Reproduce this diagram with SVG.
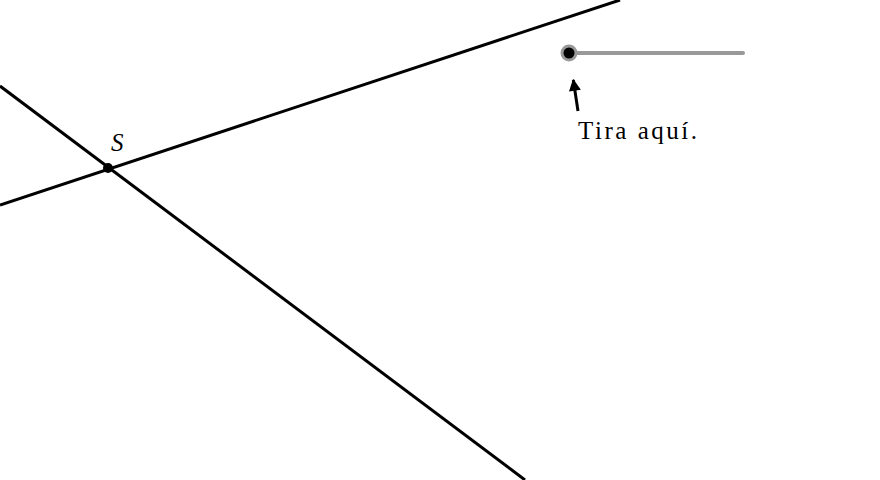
<svg xmlns="http://www.w3.org/2000/svg" width="880" height="480" viewBox="0 0 880 480">
<defs><marker id="ah" viewBox="0 0 10 10" refX="9" refY="5" markerWidth="5" markerHeight="4" orient="auto"><path d="M0,0 L10,5 L0,10 Z" fill="#000"/></marker></defs>
<style>.ln{stroke:#000;stroke-width:3;fill:none}.t{font-family:"Liberation Serif",serif;font-size:25px;fill:#000}</style>
<rect width="880" height="480" fill="#fff"/>
<g id="connectors">
<line class="ln" x1="0" y1="205" x2="620" y2="0"/>
<line class="ln" x1="0" y1="86" x2="525" y2="480"/>
<line x1="578" y1="111" x2="573.3" y2="80" stroke="#000" stroke-width="3" marker-end="url(#ah)"/>
</g>
<g id="slider">
<line x1="569" y1="53" x2="743" y2="53" stroke="#999" stroke-width="4" stroke-linecap="round"/>
<circle cx="569" cy="53" r="7" fill="#000" stroke="#999" stroke-width="3"/>
</g>
<g id="S"><circle cx="108" cy="168" r="5" fill="#000"/><text class="t" x="111" y="151" font-style="italic">S</text></g>
<g id="label"><text class="t" x="578" y="139" textLength="119" lengthAdjust="spacing">Tira aquí.</text></g>
</svg>
